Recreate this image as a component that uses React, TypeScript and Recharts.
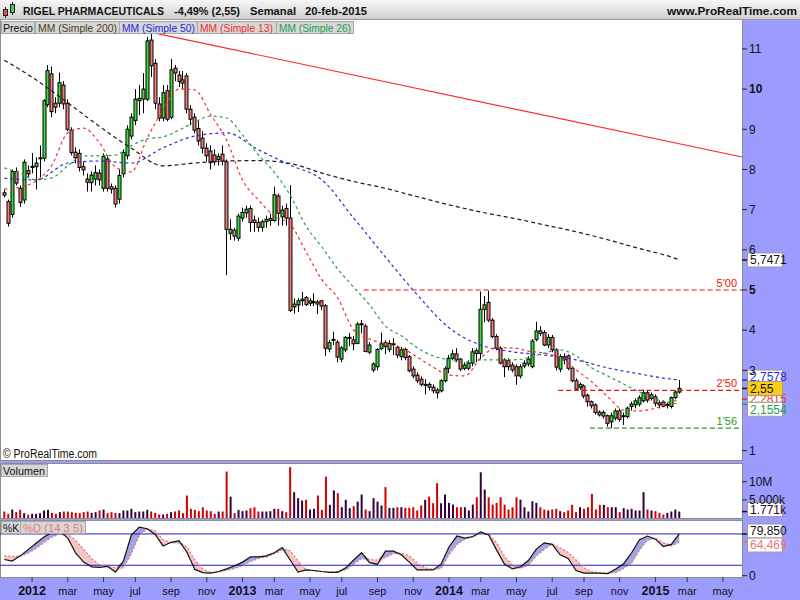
import React from 'react';
import { ComposedChart, Bar, Line, Area, XAxis, YAxis, ReferenceLine, Cell } from 'recharts';

const FONT = '"Liberation Sans", Arial, Helvetica, sans-serif';

// Weekly candles: index 0 = week of 14-nov-2011, index 170 = week of 20-feb-2015
const opens = [
  7.42,7.20,6.88,7.95,7.53,7.24,7.97,8.05,8.07,8.27,
  8.28,9.61,10.38,9.65,9.65,10.10,9.65,8.98,8.43,8.40,
  8.07,7.76,7.67,7.76,7.91,7.53,8.26,7.57,7.53,7.26,
  7.89,8.34,8.83,9.22,9.71,9.75,9.75,11.22,10.64,9.63,
  9.28,9.96,9.30,10.52,10.35,10.23,10.33,9.50,9.30,9.02,
  8.78,8.53,8.46,8.36,8.25,8.38,8.19,6.41,6.49,6.29,
  6.79,6.92,7.03,6.74,6.68,6.56,6.70,6.73,6.73,7.34,
  6.82,7.03,6.79,4.58,4.63,4.73,4.81,4.67,4.69,4.70,
  4.73,4.61,3.53,3.75,3.70,3.28,3.51,3.80,3.76,3.67,
  4.14,4.10,3.45,3.01,3.09,3.54,3.69,3.52,3.64,3.57,
  3.34,3.52,3.34,3.03,2.88,2.78,2.63,2.65,2.58,2.51,
  2.49,2.74,3.05,3.30,3.41,3.28,3.05,3.05,3.18,3.49,
  3.42,4.52,4.69,4.25,3.84,3.55,3.26,3.24,3.13,3.09,
  2.86,3.11,3.16,3.09,3.77,3.98,3.94,3.63,3.82,3.51,
  3.03,3.34,3.36,3.05,2.74,2.58,2.61,2.38,2.22,2.14,
  1.96,1.86,1.87,1.72,1.81,1.99,1.85,1.85,2.10,2.14,
  2.16,2.24,2.44,2.30,2.34,2.19,2.21,2.13,2.10,2.32,
  2.46,
];
const highs = [
  7.50,7.25,8.00,8.05,7.60,8.25,8.10,8.41,8.30,8.60,
  9.75,10.60,10.56,9.80,10.41,10.20,9.75,9.05,8.55,8.50,
  8.20,7.90,7.95,8.10,8.00,8.40,8.35,7.65,7.60,8.00,
  8.50,9.10,9.40,10.00,10.10,10.40,11.30,11.40,10.75,9.80,
  10.10,10.10,10.75,10.60,10.45,10.45,10.40,9.60,9.40,9.20,
  8.95,8.65,8.60,8.50,8.40,8.60,8.25,6.76,6.55,6.90,
  7.05,7.10,7.10,6.85,6.80,6.75,6.85,6.90,7.57,7.40,
  7.10,7.15,7.61,4.79,4.80,4.95,4.85,4.80,4.92,4.75,
  4.75,4.65,3.75,3.96,3.75,3.60,3.85,3.93,3.85,4.20,
  4.25,4.15,3.70,3.20,3.55,3.94,3.75,3.75,3.80,3.62,
  3.58,3.56,3.38,3.10,2.95,2.85,2.78,2.70,2.65,2.56,
  2.78,3.10,3.38,3.51,3.55,3.30,3.20,3.25,3.55,3.55,
  4.96,4.85,4.98,4.30,3.90,3.60,3.30,3.30,3.20,3.15,
  3.15,3.25,3.35,3.78,4.21,4.10,4.00,3.90,3.88,3.55,
  3.40,3.42,3.40,3.10,2.80,2.70,2.65,2.42,2.25,2.18,
  2.00,2.00,1.90,1.95,2.05,2.05,1.95,2.10,2.22,2.30,
  2.38,2.52,2.50,2.45,2.40,2.25,2.25,2.20,2.35,2.50,
  2.76,
];
const lows = [
  7.30,6.58,6.80,7.60,7.07,7.15,7.80,7.90,7.50,7.80,
  8.20,9.55,9.30,9.40,9.55,9.50,8.95,8.35,8.15,7.95,
  7.85,7.45,7.45,7.60,7.60,7.45,7.45,7.40,7.05,7.15,
  7.80,8.25,8.75,9.10,9.35,9.40,9.70,10.30,9.50,9.20,
  9.20,9.20,9.25,10.20,10.05,10.00,9.40,9.10,8.90,8.60,
  8.40,8.20,8.00,8.10,8.10,8.10,5.37,6.25,6.23,6.22,
  6.70,6.80,6.45,6.45,6.45,6.45,6.55,6.60,6.70,6.60,
  6.60,6.60,4.45,4.41,4.45,4.60,4.60,4.60,4.60,4.40,
  4.50,3.36,3.45,3.63,3.20,3.20,3.45,3.60,3.50,3.65,
  3.92,3.45,3.40,2.95,3.00,3.50,3.40,3.45,3.38,3.30,
  3.25,3.25,2.95,2.80,2.68,2.60,2.40,2.50,2.42,2.30,
  2.45,2.70,2.93,3.25,3.20,2.98,3.00,3.00,3.10,3.20,
  3.27,4.20,4.20,3.80,3.50,3.15,2.83,3.00,2.95,2.64,
  2.80,3.05,3.10,3.05,3.72,3.85,3.60,3.55,3.45,3.00,
  2.95,3.15,3.00,2.70,2.50,2.52,2.30,2.10,2.05,1.90,
  1.85,1.80,1.60,1.56,1.75,1.72,1.64,1.80,2.00,2.05,
  2.10,2.20,2.20,2.25,2.10,2.05,2.08,2.05,2.05,2.28,
  2.42,
];
const closes = [
  7.36,6.66,7.95,7.66,7.18,8.18,7.89,8.08,8.16,8.29,
  9.71,10.46,9.44,9.55,10.16,9.63,9.00,8.42,8.29,8.05,
  7.99,7.68,7.86,7.92,7.74,8.32,7.53,7.51,7.14,7.85,
  8.42,9.00,9.30,9.75,9.77,10.00,11.20,10.58,9.65,9.28,
  9.91,9.25,10.48,10.40,10.19,10.15,9.50,9.25,8.98,8.71,
  8.53,8.34,8.17,8.19,8.32,8.21,6.51,6.51,6.34,6.84,
  6.93,7.01,6.68,6.68,6.56,6.70,6.76,6.78,7.37,6.91,
  6.99,6.79,4.49,4.65,4.73,4.77,4.64,4.73,4.71,4.65,
  4.60,3.55,3.69,3.77,3.33,3.56,3.82,3.82,3.66,4.15,
  4.16,3.47,3.63,3.16,3.52,3.66,3.59,3.67,3.66,3.38,
  3.51,3.32,2.99,2.86,2.74,2.65,2.65,2.58,2.49,2.44,
  2.74,3.04,3.30,3.41,3.26,3.03,3.13,3.18,3.46,3.42,
  4.52,4.63,4.25,3.84,3.55,3.18,3.09,3.09,3.01,2.86,
  3.09,3.18,3.28,3.73,3.98,3.92,3.63,3.82,3.51,3.08,
  3.34,3.26,3.05,2.74,2.53,2.65,2.36,2.22,2.12,1.95,
  1.89,1.95,1.68,1.87,1.99,1.78,1.87,2.06,2.16,2.24,
  2.32,2.44,2.26,2.39,2.18,2.14,2.11,2.15,2.32,2.46,
  2.55,
];
// weekly volume, millions of shares
const volumes = [
  1.79,1.15,2.34,1.61,2.25,1.33,0.87,1.15,1.15,1.33,
  2.07,2.25,1.42,1.15,1.61,1.79,1.79,1.61,1.42,1.33,
  1.61,1.79,1.42,1.61,2.07,2.34,1.33,1.61,1.42,1.33,
  2.07,2.07,2.52,1.61,1.79,1.79,2.25,1.79,1.42,0.96,
  0.96,1.15,1.61,1.79,2.07,1.33,6.20,2.52,2.25,1.88,
  2.98,2.07,1.88,1.15,1.79,1.79,12.8,5.90,1.33,2.25,
  1.88,2.07,2.70,2.98,1.79,1.79,1.79,1.88,2.52,2.52,
  1.88,1.61,14.0,7.10,5.47,4.82,5.00,2.34,2.52,6.20,
  2.25,11.4,3.63,7.60,6.85,2.98,5.00,2.70,3.25,4.50,
  6.47,2.34,1.88,5.47,4.50,3.44,8.50,2.80,2.80,2.98,
  2.98,2.80,2.80,2.98,2.07,3.44,5.00,5.90,4.07,9.60,
  4.07,6.47,4.16,3.70,2.98,2.98,2.98,2.07,3.70,5.70,
  12.6,7.85,5.70,3.70,4.16,5.70,3.70,2.34,2.98,5.70,
  5.07,2.98,1.79,4.62,4.16,2.98,2.34,2.07,2.34,2.52,
  1.88,1.61,2.07,3.63,1.61,2.98,2.52,2.98,6.66,2.34,
  3.63,3.63,2.98,2.98,2.98,1.61,2.70,2.34,2.52,2.07,
  2.07,7.10,2.34,2.07,1.88,1.42,0.96,1.42,1.79,2.34,
  1.771,
];

// Moving averages, read at sampled weeks
const slowIdx = [0,8,16,24,32,40,48,56,64,72,80,88,96,104,112,120,128,136,144,152,160,168,170];
const ma200Values = [10.72,10.23,9.66,9.07,8.53,8.09,8.16,8.21,8.22,8.15,7.91,7.70,7.53,7.32,7.12,6.94,6.79,6.62,6.45,6.25,6.03,5.82,5.75];
const ma50Values = [7.78,7.74,8.16,8.21,8.16,8.54,8.83,8.91,8.49,8.11,7.74,6.79,5.82,4.88,4.06,3.63,3.46,3.38,3.26,3.06,2.91,2.78,2.76];
const fastIdx = [0,4,8,12,16,20,24,28,32,36,40,44,48,52,56,60,64,68,72,76,80,84,88,92,96,100,104,108,112,116,120,124,128,132,136,140,144,148,152,156,160,164,168,170];
const ma13Values = [7.51,7.56,7.71,8.11,8.91,9.03,8.66,8.06,7.94,8.78,9.48,10.00,9.98,9.36,8.73,7.74,7.24,6.84,6.64,5.95,5.25,4.80,4.00,3.78,3.66,3.56,3.33,3.08,2.88,2.86,3.31,3.56,3.56,3.48,3.43,3.31,3.01,2.71,2.34,2.01,1.99,2.06,2.21,2.28];
const ma26Values = [8.04,7.91,7.74,7.79,8.09,8.34,8.34,8.36,8.59,8.76,8.81,8.98,9.18,9.33,9.28,8.86,8.36,7.93,7.36,6.59,6.07,5.52,5.07,4.63,4.10,3.86,3.56,3.36,3.26,3.21,3.26,3.26,3.26,3.31,3.43,3.51,3.36,3.06,2.86,2.66,2.46,2.29,2.19,2.16];

// Stochastic (14 3 5), read every second week
const stochK = [31,28,38,50,62,74,83,85,72,43,26,17,16,18,7,28,78,93,90,79,57,64,67,45,12,6,5,8,13,19,26,36,36,38,44,54,30,7,11,10,8,6.5,6.5,15,30,44,25,22,47,47,40,26,11,11,11,22,55,76,72,75,84,78,49,22,13,17,29,51,63,60,40,33,10,5,5,5,4,13,23,44,69,76,70,56,60,80];
const stochD = [38,37,37,43,52,64,74,80,80,67,50,33,21,18,15,15,42,77,90,86,69,63,63,55,30,13,6,7,10,14,19,27,33,36,42,49,48,28,12,9,8,7,8,11,22,33,31,30,35,42,43,38,24,15,12,14,40,60,70,74,81,80,63,37,20,14,20,38,50,61,53,45,30,15,8,5,5,6,14,24,49,68,72,63,57,64];

// Month ticks: week index of first candle of each month
const monthTickIdx = [7,16,25,33,42,51,60,68,77,85,94,103,112,120,129,138,146,155,164,172,181];
const monthTickLabels = ['2012','mar','may','jul','sep','nov','2013','mar','may','jul','sep','nov','2014','mar','may','jul','sep','nov','2015','mar','may'];

// Trend line and horizontal levels
const trendPoints = [{ x: 36.7, y: 11.42 }, { x: 185.8, y: 8.31 }];
const levelValues = [5.0, 2.5, 1.56];
const levelStart = [90.5, 139.5, 147.5];
const levelLabels = ["5'00", "2'50", "1'56"];

const priceTicks = [1, 3, 4, 5, 6, 7, 8, 9, 10, 11];
const X_MIN = -1.08;
const X_MAX = 185.8;

const GREEN = '#3fdc3f';
const RED = '#f47c7c';

type Row = { i: number; o: number; h: number; l: number; c: number; ma200: number | null; ma50: number | null; ma13: number | null; ma26: number | null };
const priceRows: Row[] = opens.map((o, i) => ({ i, o, h: highs[i], l: lows[i], c: closes[i], ma200: null, ma50: null, ma13: null, ma26: null }));
slowIdx.forEach((idx, k) => { priceRows[idx].ma200 = ma200Values[k]; priceRows[idx].ma50 = ma50Values[k]; });
fastIdx.forEach((idx, k) => { priceRows[idx].ma13 = ma13Values[k]; priceRows[idx].ma26 = ma26Values[k]; });

const volRows = volumes.map((v, i) => ({ i, v, up: closes[i] >= opens[i] }));

const stochRows = stochK.map((k, n) => {
  const d = stochD[n];
  return { i: n * 2, k, d, blue: [d, Math.max(k, d)], pink: [Math.min(k, d), d] };
});

const Candle = (props: any) => {
  const { x, y, width, height, payload } = props;
  if (!payload || x == null || y == null) return null;
  const { o, h, l, c } = payload;
  const top = Math.min(y, y + height);
  const bot = Math.max(y, y + height);
  const span = h - l || 1;
  const py = (v: number) => top + ((h - v) / span) * (bot - top);
  const cx = Math.round(x + width / 2) + 0.5;
  const bTop = py(Math.max(o, c));
  const bBot = py(Math.min(o, c));
  const up = c >= o;
  return (
    <g>
      <line x1={cx} x2={cx} y1={top} y2={bot} stroke="#000" strokeWidth={1} />
      <rect x={cx - 1.5} y={bTop} width={3} height={Math.max(bBot - bTop, 1)} fill={up ? GREEN : RED} stroke="#000" strokeWidth={1} />
    </g>
  );
};

const PriceTick = (props: any) => {
  const { x, y, payload } = props;
  const v = payload.value;
  const bold = v === 5 || v === 10;
  return (
    <text x={x} y={y} dy="0.36em" fontFamily={FONT} fontSize={12} fontWeight={bold ? 'bold' : 'normal'} fill="#111" textAnchor="start">{v}</text>
  );
};

const PlainTick = (props: any) => {
  const { x, y, payload, fmt } = props;
  return (
    <text x={x} y={y} dy="0.36em" fontFamily={FONT} fontSize={12} fill="#111" textAnchor="start">{fmt ? fmt(payload.value) : payload.value}</text>
  );
};

const XTick = (props: any) => {
  const { x, y, payload } = props;
  const n = monthTickIdx.indexOf(payload.value);
  const label = monthTickLabels[n] ?? '';
  const isYear = /^\d/.test(label);
  return (
    <g>
      <line x1={x} x2={x} y1={y} y2={y + 5} stroke="#333" strokeWidth={1} />
      <text x={x} y={y + 18} textAnchor="middle" fontFamily={FONT} fontSize={isYear ? 12.5 : 11} fontWeight={isYear ? 'bold' : 'normal'} fill="#111">{label}</text>
    </g>
  );
};

const AxisBox = (props: any) => {
  const { viewBox, text, color, bg, dy, tickColor } = props;
  if (!viewBox) return null;
  const xr = viewBox.x + viewBox.width;
  const yc = viewBox.y;
  return (
    <g>
      <line x1={xr} x2={xr + 5} y1={yc} y2={yc} stroke={tickColor} strokeWidth={1.5} />
      <rect x={xr + 5.5} y={yc + dy - 7} width={35} height={14} fill={bg} stroke="#9a9a9a" strokeWidth={1} />
      <text x={xr + 8} y={yc + dy} dy="0.36em" fontFamily={FONT} fontSize={12} fill={color}>{text}</text>
    </g>
  );
};

const LevelLabel = (props: any) => {
  const { viewBox, text, color } = props;
  if (!viewBox) return null;
  return (
    <text x={viewBox.x + viewBox.width - 5} y={viewBox.y - 3} textAnchor="end" fontFamily={FONT} fontSize={11} fill={color}>{text}</text>
  );
};

export default function App() {
  const levelColors = ['#ee1111', '#ee1111', '#2f9a1a'];
  return (
    <div style={{ position: 'absolute', left: 0, top: 0, width: 800, height: 600, background: '#9c9cff', overflow: 'hidden', fontFamily: FONT }}>
      {/* panel backgrounds */}
      <svg style={{ position: 'absolute', left: 0, top: 0 }} width={800} height={600}>
        <rect x={0.5} y={19.5} width={742} height={441} fill="#fff" stroke="#8c8c8c" />
        <rect x={0.5} y={463.5} width={742} height={55} fill="#fff" stroke="#8c8c8c" />
        <rect x={0.5} y={520.5} width={742} height={57} fill="#fff" stroke="#8c8c8c" />
      </svg>

      {/* price chart */}
      <div style={{ position: 'absolute', left: 0, top: 20 }}>
        <ComposedChart width={800} height={440} data={priceRows} margin={{ top: 0, right: 0, bottom: 0, left: 0 }}>
          <XAxis type="number" dataKey="i" domain={[X_MIN, X_MAX]} hide allowDataOverflow />
          <YAxis orientation="right" width={58} domain={[0.768, 11.72]} ticks={priceTicks} interval={0} allowDataOverflow
            tick={<PriceTick />} tickSize={5} tickMargin={2} axisLine={false} tickLine={{ stroke: '#222' }} />
          <Bar dataKey={(d: any) => [d.l, d.h]} barSize={3} shape={<Candle />} isAnimationActive={false} />
          <Line dataKey="ma200" type="monotone" connectNulls stroke="#1a1a1a" strokeWidth={1.2} strokeDasharray="4 3" dot={false} activeDot={false} isAnimationActive={false} />
          <Line dataKey="ma50" type="monotone" connectNulls stroke="#2a2ad8" strokeWidth={1.2} strokeDasharray="3 3" dot={false} activeDot={false} isAnimationActive={false} />
          <Line dataKey="ma26" type="monotone" connectNulls stroke="#20a050" strokeWidth={1.2} strokeDasharray="3 3" dot={false} activeDot={false} isAnimationActive={false} />
          <Line dataKey="ma13" type="monotone" connectNulls stroke="#f03030" strokeWidth={1.2} strokeDasharray="3 3" dot={false} activeDot={false} isAnimationActive={false} />
          <ReferenceLine segment={trendPoints} stroke="#ff2a2a" strokeWidth={1.2} ifOverflow="visible" />
          {levelValues.map((v, n) => (
            <ReferenceLine key={'lv' + n} segment={[{ x: levelStart[n], y: v }, { x: X_MAX, y: v }]} stroke={levelColors[n]} strokeWidth={1.2} strokeDasharray="5 3" ifOverflow="visible"
              label={(p: any) => <LevelLabel viewBox={p.viewBox} text={levelLabels[n]} color={levelColors[n]} />} />
          ))}
          <ReferenceLine y={5.7471} strokeWidth={0} stroke="none" label={(p: any) => <AxisBox viewBox={p.viewBox} text="5,7471" color="#111" bg="#fff" dy={0} tickColor="#111" />} />
          <ReferenceLine y={2.7578} strokeWidth={0} stroke="none" label={(p: any) => <AxisBox viewBox={p.viewBox} text="2,7578" color="#2a2ad8" bg="#fff" dy={-3} tickColor="#2a2ad8" />} />
          <ReferenceLine y={2.2815} strokeWidth={0} stroke="none" label={(p: any) => <AxisBox viewBox={p.viewBox} text="2,2815" color="#f03030" bg="#fff" dy={-1} tickColor="#f03030" />} />
          <ReferenceLine y={2.1554} strokeWidth={0} stroke="none" label={(p: any) => <AxisBox viewBox={p.viewBox} text="2,1554" color="#20a050" bg="#fff" dy={5} tickColor="#20a050" />} />
          <ReferenceLine y={2.55} strokeWidth={0} stroke="none" label={(p: any) => <AxisBox viewBox={p.viewBox} text="2,55" color="#111" bg="#ffcc11" dy={0} tickColor="#111" />} />
        </ComposedChart>
      </div>

      {/* volume chart */}
      <div style={{ position: 'absolute', left: 0, top: 464 }}>
        <ComposedChart width={800} height={54} data={volRows} margin={{ top: 0, right: 0, bottom: 0, left: 0 }}>
          <XAxis type="number" dataKey="i" domain={[X_MIN, X_MAX]} hide allowDataOverflow />
          <YAxis orientation="right" width={58} domain={[0, 14.88]} ticks={[5, 10]} interval={0} allowDataOverflow
            tick={<PlainTick fmt={(v: number) => (v === 10 ? '10M' : '5.000k')} />} tickSize={5} tickMargin={2} axisLine={false} tickLine={{ stroke: '#222' }} />
          <Bar dataKey="v" barSize={2} isAnimationActive={false}>
            {volRows.map((r, n) => <Cell key={n} fill={r.up ? '#33003a' : '#d40000'} />)}
          </Bar>
          <ReferenceLine y={1.771} strokeWidth={0} stroke="none" label={(p: any) => <AxisBox viewBox={p.viewBox} text="1.771k" color="#33003a" bg="#fff" dy={-2} tickColor="#33003a" />} />
        </ComposedChart>
      </div>

      {/* stochastic chart + date axis */}
      <div style={{ position: 'absolute', left: 0, top: 521 }}>
        <ComposedChart width={800} height={79} data={stochRows} margin={{ top: 0, right: 0, bottom: 0, left: 0 }}>
          <XAxis type="number" dataKey="i" domain={[X_MIN, X_MAX]} allowDataOverflow ticks={monthTickIdx} interval={0}
            tick={<XTick />} tickLine={false} axisLine={false} tickSize={0} tickMargin={0} height={23} />
          <YAxis orientation="right" width={58} domain={[-2.5, 104.8]} ticks={[0]} interval={0} allowDataOverflow
            tick={<PlainTick />} tickSize={5} tickMargin={2} axisLine={false} tickLine={{ stroke: '#222' }} />
          <Area dataKey="blue" type="linear" stroke="none" fill="#a4a4e4" fillOpacity={1} isAnimationActive={false} />
          <Area dataKey="pink" type="linear" stroke="none" fill="#f5c6c6" fillOpacity={1} isAnimationActive={false} />
          <ReferenceLine y={80} stroke="#1c1cc8" strokeWidth={1} />
          <ReferenceLine y={20} stroke="#1c1cc8" strokeWidth={1} />
          <Line dataKey="d" type="linear" stroke="#e87878" strokeWidth={1.3} strokeDasharray="2 2" dot={false} activeDot={false} isAnimationActive={false} />
          <Line dataKey="k" type="linear" stroke="#111" strokeWidth={1.2} dot={false} activeDot={false} isAnimationActive={false} />
          <ReferenceLine y={79.85} strokeWidth={0} stroke="none" label={(p: any) => <AxisBox viewBox={p.viewBox} text="79,850" color="#111" bg="#fff" dy={-3} tickColor="#111" />} />
          <ReferenceLine y={64.469} strokeWidth={0} stroke="none" label={(p: any) => <AxisBox viewBox={p.viewBox} text="64,469" color="#e87878" bg="#fff" dy={3} tickColor="#e87878" />} />
        </ComposedChart>
      </div>

      {/* foreground decorations */}
      <svg style={{ position: 'absolute', left: 0, top: 0, pointerEvents: 'none' }} width={800} height={600}>
        <defs>
          <linearGradient id="hdr" x1="0" y1="0" x2="0" y2="1">
            <stop offset="0" stopColor="#f7f7f7" />
            <stop offset="1" stopColor="#cfcfcf" />
          </linearGradient>
        </defs>
        <rect x={0} y={0} width={800} height={19} fill="url(#hdr)" />
        <line x1={0} x2={800} y1={19.5} y2={19.5} stroke="#9a9a9a" />
        {/* header icon */}
        <line x1={5.5} x2={5.5} y1={7} y2={18} stroke="#222" />
        <rect x={3.5} y={9.5} width={4} height={6} fill="#e05050" stroke="#222" />
        <line x1={12.5} x2={12.5} y1={2} y2={15} stroke="#222" />
        <rect x={10.5} y={4.5} width={4} height={8} fill="#40d040" stroke="#222" />
        <g fontFamily={FONT} fontWeight="bold" fontSize={11.5} fill="#111">
          <text x={23} y={14.5} textLength={141} lengthAdjust="spacingAndGlyphs">RIGEL PHARMACEUTICALS</text>
          <text x={174} y={14.5} textLength={66} lengthAdjust="spacingAndGlyphs">-4,49% (2,55)</text>
          <text x={250} y={14.5} textLength={46} lengthAdjust="spacingAndGlyphs">Semanal</text>
          <text x={305} y={14.5} textLength={62} lengthAdjust="spacingAndGlyphs">20-feb-2015</text>
          <text x={667} y={14.5} textLength={130} lengthAdjust="spacingAndGlyphs">www.ProRealTime.com</text>
        </g>
        {/* legend row */}
        <g fontFamily={FONT} fontSize={11}>
          <rect x={1.5} y={21.5} width={33} height={12} fill="#d6d6d6" stroke="#a8a8a8" />
          <text x={3} y={31.5} fill="#111" textLength={30} lengthAdjust="spacingAndGlyphs">Precio</text>
          <rect x={35.5} y={21.5} width={84} height={12} fill="#d6d6d6" stroke="#a8a8a8" />
          <text x={38} y={31.5} fill="#4b3b22" textLength={79} lengthAdjust="spacingAndGlyphs">MM (Simple 200)</text>
          <rect x={119.5} y={21.5} width={78} height={12} fill="#d6d6d6" stroke="#a8a8a8" />
          <text x={122} y={31.5} fill="#2a2ad8" textLength={73} lengthAdjust="spacingAndGlyphs">MM (Simple 50)</text>
          <rect x={197.5} y={21.5} width={79} height={12} fill="#d6d6d6" stroke="#a8a8a8" />
          <text x={200} y={31.5} fill="#f03030" textLength={73} lengthAdjust="spacingAndGlyphs">MM (Simple 13)</text>
          <rect x={276.5} y={21.5} width={77} height={12} fill="#d6d6d6" stroke="#a8a8a8" />
          <text x={279} y={31.5} fill="#20a050" textLength={72} lengthAdjust="spacingAndGlyphs">MM (Simple 26)</text>
          {/* volume label */}
          <rect x={1.5} y={464.5} width={46} height={12} fill="#d6d6d6" stroke="#a8a8a8" />
          <text x={3} y={474.5} fill="#111" textLength={42} lengthAdjust="spacingAndGlyphs">Volumen</text>
          {/* stochastic labels */}
          <rect x={1.5} y={521.5} width={19} height={12} fill="#d6d6d6" stroke="#a8a8a8" />
          <text x={3} y={531.5} fill="#111" textLength={16} lengthAdjust="spacingAndGlyphs">%K</text>
          <rect x={20.5} y={521.5} width={65} height={12} fill="#d6d6d6" stroke="#a8a8a8" />
          <text x={23} y={531.5} fill="#e87878" textLength={60} lengthAdjust="spacingAndGlyphs">%D (14 3 5)</text>
        </g>
        <text x={3} y={458} fontFamily={FONT} fontSize={12} fill="#111" textLength={94} lengthAdjust="spacingAndGlyphs">© ProRealTime.com</text>
      </svg>
    </div>
  );
}
